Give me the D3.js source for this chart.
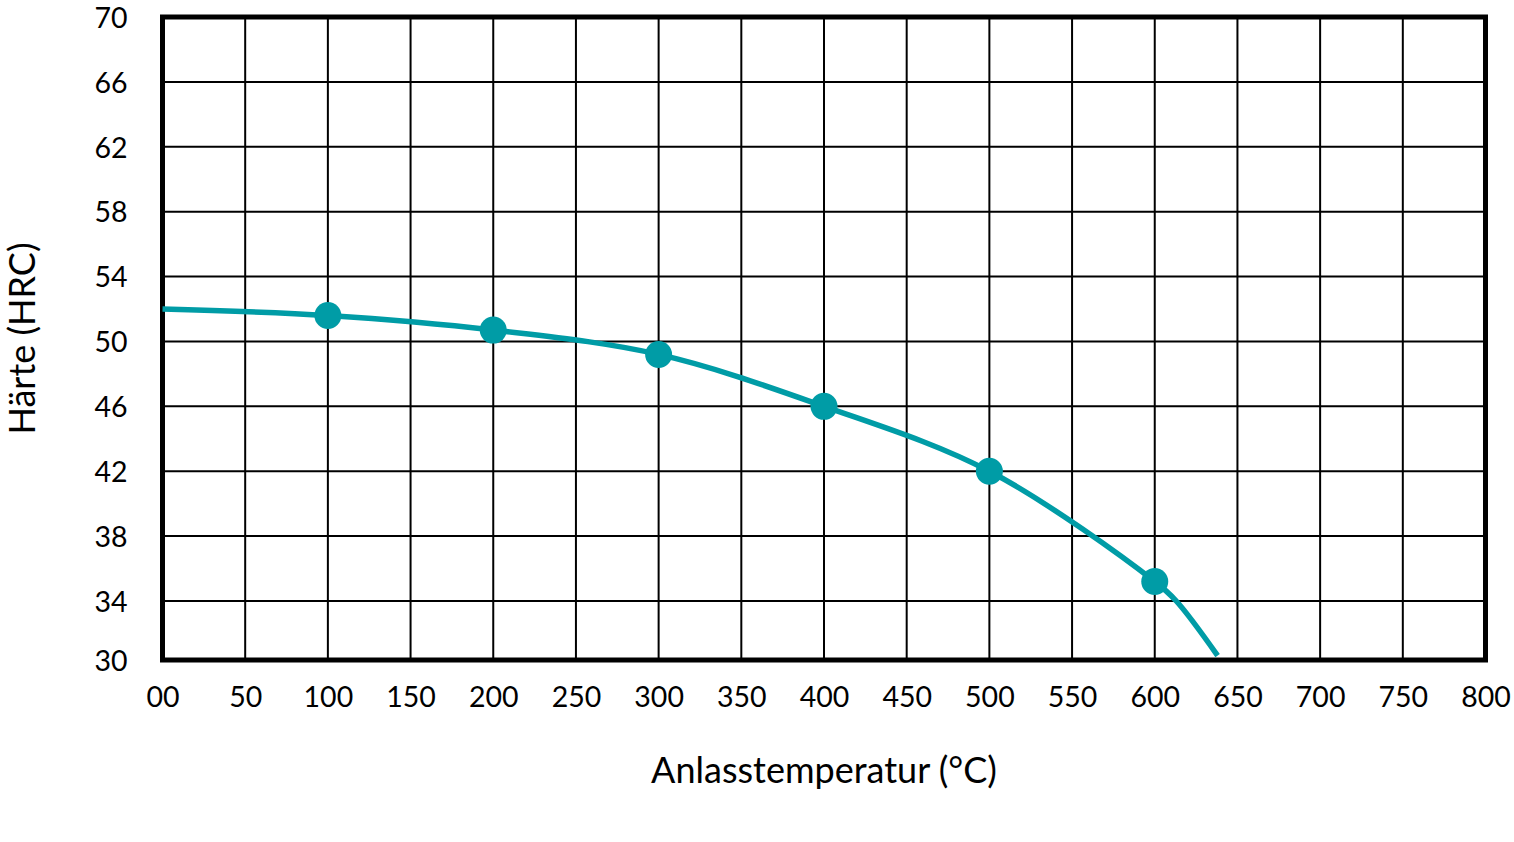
<!DOCTYPE html>
<html>
<head>
<meta charset="utf-8">
<script src="https://cdn.jsdelivr.net/npm/d3@7"></script>
<style>
  html, body { margin: 0; padding: 0; background: #fff; }
  svg { display: block; font-family: Lato, "Open Sans", sans-serif; }
</style>
</head>
<body>
<svg id="chart" width="1514" height="842"></svg>
<script>
// measured points (markers)
const temps = [100, 200, 300, 400, 500, 600];
const hardness = [51.6, 50.7, 49.2, 46.0, 42.0, 35.2];

// the drawn curve, incl. its two open ends
const curveTemps = [0, 100, 200, 300, 400, 500, 600, 613, 638];
const curveHardness = [52.0, 51.6, 50.7, 49.2, 46.0, 42.0, 35.2, 34.0, 30.3];

const xTicks = [0, 50, 100, 150, 200, 250, 300, 350, 400, 450, 500, 550, 600, 650, 700, 750, 800];
const yTicks = [30, 34, 38, 42, 46, 50, 54, 58, 62, 66, 70];

const teal = "#009ca6";
const svg = d3.select("#chart");

const x = d3.scaleLinear().domain([0, 800]).range([162.5, 1485.5]);
// the bottom row of the original grid is a bit shorter than the others
const y = d3.scaleLinear().domain([30, 34, 70]).range([660, 601, 17]);

// grid
const grid = svg.append("g").attr("stroke", "#000").attr("stroke-width", 2);
grid.selectAll("line.v")
  .data(xTicks.slice(1, -1))
  .enter().append("line")
  .attr("x1", d => x(d)).attr("x2", d => x(d))
  .attr("y1", y(70)).attr("y2", y(30));
grid.selectAll("line.h")
  .data(yTicks.slice(1, -1))
  .enter().append("line")
  .attr("x1", x(0)).attr("x2", x(800))
  .attr("y1", d => y(d)).attr("y2", d => y(d));

// frame
svg.append("rect")
  .attr("x", x(0)).attr("y", y(70))
  .attr("width", x(800) - x(0)).attr("height", y(30) - y(70))
  .attr("fill", "none").attr("stroke", "#000").attr("stroke-width", 5);

// axes (labels only)
const xAxis = svg.append("g")
  .attr("transform", `translate(0,${y(30) + 24})`)
  .call(d3.axisBottom(x).tickValues(xTicks).tickSize(0)
    .tickFormat(d => d === 0 ? "00" : d));
const yAxis = svg.append("g")
  .attr("transform", `translate(${x(0) - 32},0)`)
  .call(d3.axisLeft(y).tickValues(yTicks).tickSize(0));

[xAxis, yAxis].forEach(g => {
  g.select(".domain").remove();
  g.selectAll("text")
    .attr("fill", "#000")
    .style("font-family", "Lato, 'Open Sans', sans-serif")
    .style("font-size", "28.5px");
});
yAxis.selectAll("text").attr("dy", "0.36em");

// curve
const line = d3.line()
  .x(d => x(d[0]))
  .y(d => y(d[1]))
  .curve(d3.curveCatmullRom.alpha(0.5));

svg.append("path")
  .datum(d3.zip(curveTemps, curveHardness))
  .attr("d", line)
  .attr("fill", "none")
  .attr("stroke", teal)
  .attr("stroke-width", 5.5);

svg.append("g").selectAll("circle")
  .data(d3.zip(temps, hardness))
  .enter().append("circle")
  .attr("cx", d => x(d[0]))
  .attr("cy", d => y(d[1]))
  .attr("r", 13.5)
  .attr("fill", teal);

// titles
svg.append("text")
  .attr("x", (x(0) + x(800)) / 2)
  .attr("y", 783)
  .attr("text-anchor", "middle")
  .style("font-size", "36px")
  .text("Anlasstemperatur (°C)");

svg.append("text")
  .attr("transform", `translate(35,${(y(30) + y(70)) / 2}) rotate(-90)`)
  .attr("text-anchor", "middle")
  .style("font-size", "36px")
  .text("Härte (HRC)");
</script>
</body>
</html>
